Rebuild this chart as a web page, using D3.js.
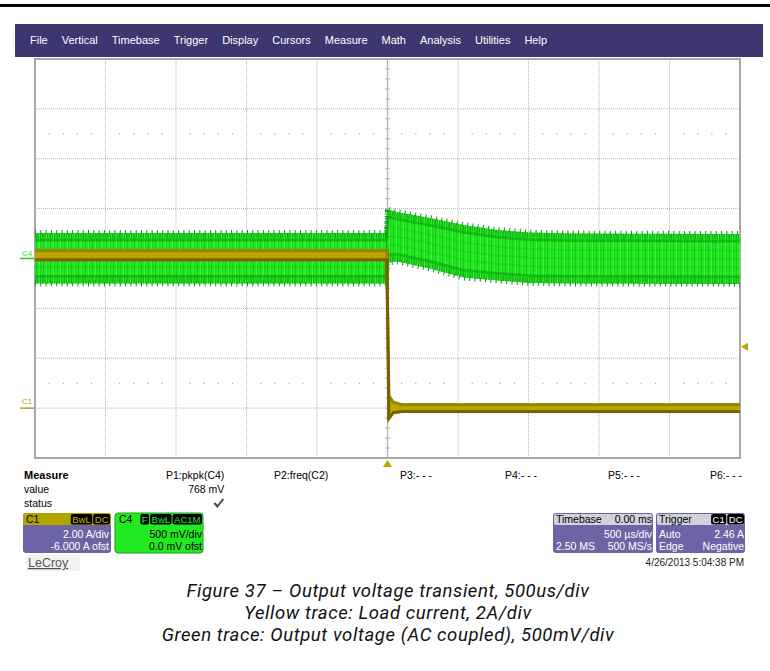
<!DOCTYPE html>
<html>
<head>
<meta charset="utf-8">
<script src="https://cdn.jsdelivr.net/npm/d3@7/dist/d3.min.js"></script>
<style>
  body { margin: 0; background: #fff; }
  svg { display: block; }
  text { font-family: "Liberation Sans", Arial, sans-serif; }
</style>
</head>
<body>
<svg id="scope" width="770" height="671"></svg>
<script>
// values
const menuItems = ["File", "Vertical", "Timebase", "Trigger", "Display", "Cursors", "Measure", "Math", "Analysis", "Utilities", "Help"];

// C4 output voltage (AC coupled) envelope, mV vs ms
const c4Time  = [-2.5, -0.01, 0.0, 0.07, 0.30, 0.54, 0.78, 1.01, 1.30, 2.5];
const c4Upper = [255, 255, 490, 465, 405, 335, 285, 260, 250, 245];
const c4Lower = [-250, -250, -40, -30, -100, -190, -220, -245, -250, -255];

// C1 load current envelope, A vs ms
const c1Time  = [-2.5, -0.005, 0.01, 0.04, 0.10, 2.5];
const c1Upper = [6.37, 6.37, 0.55, 0.30, 0.20, 0.20];
const c1Lower = [5.89, 5.89, -0.48, -0.25, -0.20, -0.20];

const triggerLevel = 2.46;

const measureNames  = ["P1:pkpk(C4)", "P2:freq(C2)", "P3:- - -", "P4:- - -", "P5:- - -", "P6:- - -"];
const measureValues = ["768 mV", "", "", "", "", ""];

const captionLines = [
  "Figure 37 \u2013 Output voltage transient, 500us/div",
  "Yellow trace: Load current, 2A/div",
  "Green trace: Output voltage (AC coupled), 500mV/div"
];

const svg = d3.select("#scope");

// top rule + menu bar
svg.append("rect").attr("x", 0).attr("y", 4).attr("width", 770).attr("height", 3).attr("fill", "#000");
svg.append("rect").attr("x", 15).attr("y", 24).attr("width", 748).attr("height", 33).attr("fill", "#3e3670");

let mx = 30;
menuItems.forEach(m => {
  const t = svg.append("text").attr("x", mx).attr("y", 44)
    .attr("fill", "#fff").style("font-size", "11px").text(m);
  mx += t.node().getComputedTextLength() + 14;
});

// scales
const pLeft = 35, pRight = 740, pTop = 59, pBottom = 458;
const x = d3.scaleLinear().domain([-2.5, 2.5]).range([pLeft, pRight]);
const yV = d3.scaleLinear().domain([-2000, 2000]).range([pBottom, pTop]);   // 500 mV/div
const yA = d3.scaleLinear().domain([-2, 14]).range([pBottom, pTop]);        // 2 A/div, -6 A offset

// grid
const grid = svg.append("g");
d3.range(-2, 2.01, 0.5).filter(d => Math.abs(d) > 1e-6).forEach(t => {
  grid.append("line").attr("x1", x(t)).attr("x2", x(t)).attr("y1", pTop).attr("y2", pBottom)
    .attr("stroke", "#b4b4b4").attr("stroke-dasharray", "1,1");
});
d3.range(-1500, 1501, 500).forEach(v => {
  grid.append("line").attr("x1", pLeft).attr("x2", pRight).attr("y1", yV(v)).attr("y2", yV(v))
    .attr("stroke", "#b4b4b4").attr("stroke-dasharray", "1,1");
});
[-1250, 1250].forEach(v => {
  d3.range(-2.4, 2.5, 0.1).filter(t => Math.abs(t * 2 - Math.round(t * 2)) > 1e-6).forEach(t => {
    grid.append("rect").attr("x", x(t) - 0.5).attr("y", yV(v) - 0.5).attr("width", 1.2).attr("height", 1.2).attr("fill", "#a8a8a8");
  });
});
grid.append("line").attr("x1", x(0)).attr("x2", x(0)).attr("y1", pTop).attr("y2", pBottom)
  .attr("stroke", "#b0b0b0").attr("stroke-width", 1.2);
d3.range(-2000, 2001, 100).forEach(v => {
  grid.append("line").attr("x1", x(0) - 2.5).attr("x2", x(0) + 2.5).attr("y1", yV(v)).attr("y2", yV(v))
    .attr("stroke", "#b0b0b0");
});
svg.append("rect").attr("x", pLeft).attr("y", pTop).attr("width", pRight - pLeft).attr("height", pBottom - pTop)
  .attr("fill", "none").attr("stroke", "#a8a8a8").attr("stroke-width", 2);

// texture for the noisy green band
const defs = svg.append("defs");
const pat = defs.append("pattern").attr("id", "c4tex").attr("patternUnits", "userSpaceOnUse")
  .attr("width", 7).attr("height", 6);
pat.append("rect").attr("width", 7).attr("height", 6).attr("fill", "#22e822");
pat.append("rect").attr("x", 1).attr("width", 1).attr("height", 6).attr("fill", "#18cc18");
pat.append("rect").attr("x", 4).attr("width", 1).attr("height", 6).attr("fill", "#3cf53c");
pat.append("rect").attr("x", 5).attr("width", 1).attr("height", 6).attr("fill", "#1ad21a");

// C4 trace
const c4 = c4Time.map((t, i) => ({ t, hi: c4Upper[i], lo: c4Lower[i] }));
const c4Area = d3.area().x(d => x(d.t)).y0(d => yV(d.lo)).y1(d => yV(d.hi));
svg.append("path").datum(c4).attr("d", c4Area).attr("fill", "url(#c4tex)");
[0.15, 0.33, 0.5, 0.67, 0.85].forEach(f => {
  svg.append("path").datum(c4)
    .attr("d", d3.line().x(d => x(d.t)).y(d => yV(d.lo + (d.hi - d.lo) * f)))
    .attr("fill", "none").attr("stroke", "#10a810").attr("stroke-opacity", 0.22).attr("stroke-width", 2);
});
// serrated band edges
["hi", "lo"].forEach(k => {
  const s = k === "hi" ? 1 : -1;
  svg.append("path").datum(c4)
    .attr("d", d3.line().x(d => x(d.t)).y(d => yV(d[k]) + s * 2.5))
    .attr("fill", "none").attr("stroke", "#1aa81a").attr("stroke-width", 5)
    .attr("stroke-dasharray", "1,1.4");
  svg.append("path").datum(c4)
    .attr("d", d3.line().x(d => x(d.t)).y(d => yV(d[k]) - s * 1))
    .attr("fill", "none").attr("stroke", "#13951a").attr("stroke-width", 4)
    .attr("stroke-dasharray", "1,4.3");
  svg.append("path").datum(c4)
    .attr("d", d3.line().x(d => x(d.t)).y(d => yV(d[k]) + s * 7))
    .attr("fill", "none").attr("stroke", "#0c9a0c").attr("stroke-opacity", 0.5).attr("stroke-width", 3);
});

// C1 trace
const c1 = c1Time.map((t, i) => ({ t, hi: c1Upper[i], lo: c1Lower[i] }));
svg.append("line").attr("x1", x(0) + 0.5).attr("x2", x(0) + 0.5)
  .attr("y1", yA(d3.max(c1Upper))).attr("y2", yA(d3.min(c1Lower)))
  .attr("stroke", "#8a7600").attr("stroke-width", 2);
svg.append("path").datum(c1)
  .attr("d", d3.area().x(d => x(d.t)).y0(d => yA(d.lo)).y1(d => yA(d.hi)))
  .attr("fill", "#b8a800");
svg.append("path").datum(c1)
  .attr("d", d3.line().x(d => x(d.t)).y(d => yA(d.hi) + 1.5))
  .attr("fill", "none").attr("stroke", "#958500").attr("stroke-width", 3);
svg.append("path").datum(c1)
  .attr("d", d3.line().x(d => x(d.t)).y(d => yA(d.lo) - 1.5))
  .attr("fill", "none").attr("stroke", "#7a6100").attr("stroke-width", 3);

// channel markers
svg.append("text").attr("x", 22).attr("y", yV(0) - 3).attr("fill", "#33dd33")
  .style("font-size", "8px").text("C4");
svg.append("line").attr("x1", 20).attr("x2", pLeft - 1).attr("y1", yV(0)).attr("y2", yV(0))
  .attr("stroke", "#22cc22").attr("stroke-width", 1.5);
svg.append("text").attr("x", 22).attr("y", yA(0) - 4).attr("fill", "#b0a400")
  .style("font-size", "8px").text("C1");
svg.append("line").attr("x1", 20).attr("x2", pLeft - 1).attr("y1", yA(0)).attr("y2", yA(0))
  .attr("stroke", "#b0a400").attr("stroke-width", 1.5);

// trigger level & position markers
const ty = yA(triggerLevel);
svg.append("path").attr("d", `M${pRight + 1},${ty} L${pRight + 8},${ty - 4} L${pRight + 8},${ty + 4} Z`).attr("fill", "#b4a800");
svg.append("path").attr("d", `M${x(0)},${pBottom + 2} L${x(0) - 4.5},${pBottom + 9} L${x(0) + 4.5},${pBottom + 9} Z`).attr("fill", "#b4a800");

// measure table
const fs = "10.5px";
svg.append("text").attr("x", 24).attr("y", 479).style("font-size", "11px").style("font-weight", "bold").text("Measure");
svg.append("text").attr("x", 24).attr("y", 493).style("font-size", fs).text("value");
svg.append("text").attr("x", 24).attr("y", 507).style("font-size", fs).text("status");
const colX = [166, 274, 400, 505, 608, 710];
measureNames.forEach((n, i) => {
  const t = svg.append("text").attr("x", colX[i]).attr("y", 479).style("font-size", fs).text(n);
  if (measureValues[i]) {
    const w = t.node().getComputedTextLength();
    svg.append("text").attr("x", colX[i] + w).attr("y", 493).attr("text-anchor", "end")
      .style("font-size", fs).text(measureValues[i]);
    svg.append("path").attr("d", `M${colX[i] + w - 10},${503} L${colX[i] + w - 7},${506.5} L${colX[i] + w - 1},${499}`)
      .attr("fill", "none").attr("stroke", "#444").attr("stroke-width", 2);
  }
});

// small helper for the black tags
function tag(g, x0, y0, label, color) {
  const t = g.append("text").attr("x", x0 + 1.5).attr("y", y0 + 9).attr("fill", color)
    .style("font-size", "9.5px").text(label);
  const w = t.node().getComputedTextLength() + 3;
  g.insert("rect", "text").attr("x", x0).attr("y", y0 + 0.5).attr("width", w).attr("height", 10.5)
    .attr("rx", 2).attr("fill", "#000");
  return w;
}
function tagsRight(g, xr, y0, labels, color) {
  // lay tags right to left
  let xx = xr;
  labels.slice().reverse().forEach(l => {
    const tmp = g.append("text").style("font-size", "9.5px").text(l);
    const w = tmp.node().getComputedTextLength() + 3;
    tmp.remove();
    xx -= w;
    tag(g, xx, y0, l, color);
    xx -= 1;
  });
}

// C1 box
const b1 = svg.append("g");
b1.append("rect").attr("x", 23).attr("y", 513).attr("width", 88).attr("height", 40).attr("rx", 3).attr("fill", "#6d64a6");
b1.append("path").attr("d", "M23,525 L23,516 Q23,513 26,513 L108,513 Q111,513 111,516 L111,525 Z").attr("fill", "#b1a300");
b1.append("text").attr("x", 26).attr("y", 523).style("font-size", "10.5px").text("C1");
tagsRight(b1, 110, 513.5, ["BwL", "DC"], "#c8b800");
b1.append("text").attr("x", 109).attr("y", 538).attr("text-anchor", "end").attr("fill", "#fff").style("font-size", "10.5px").text("2.00 A/div");
b1.append("text").attr("x", 109).attr("y", 550).attr("text-anchor", "end").attr("fill", "#fff").style("font-size", "10.5px").text("-6.000 A ofst");

// C4 box
const b4 = svg.append("g");
b4.append("rect").attr("x", 115).attr("y", 513).attr("width", 88).attr("height", 40).attr("rx", 3).attr("fill", "#22ea22").attr("stroke", "#1aa01a");
b4.append("text").attr("x", 119).attr("y", 523).style("font-size", "10.5px").text("C4");
tagsRight(b4, 202, 513.5, ["F", "BwL", "AC1M"], "#22ea22");
b4.append("text").attr("x", 202).attr("y", 538).attr("text-anchor", "end").style("font-size", "10.5px").text("500 mV/div");
b4.append("text").attr("x", 202).attr("y", 550).attr("text-anchor", "end").style("font-size", "10.5px").text("0.0 mV ofst");

// LeCroy logo
svg.append("rect").attr("x", 26).attr("y", 555).attr("width", 54).attr("height", 16).attr("fill", "#f2f2f2");
svg.append("text").attr("x", 28).attr("y", 567).attr("fill", "#555").style("font-size", "12.5px")
  .style("text-decoration", "underline").text("LeCroy");

// Timebase box
const tb = svg.append("g");
tb.append("rect").attr("x", 553).attr("y", 513).attr("width", 100).attr("height", 40).attr("rx", 3).attr("fill", "#6d64a6");
tb.append("rect").attr("x", 554).attr("y", 514).attr("width", 98).attr("height", 11).attr("rx", 2).attr("fill", "#d2d2dc");
tb.append("text").attr("x", 556).attr("y", 523).style("font-size", "10.5px").text("Timebase");
tb.append("text").attr("x", 652).attr("y", 523).attr("text-anchor", "end").style("font-size", "10.5px").text("0.00 ms");
tb.append("text").attr("x", 652).attr("y", 538).attr("text-anchor", "end").attr("fill", "#fff").style("font-size", "10.5px").text("500 \u00b5s/div");
tb.append("text").attr("x", 556).attr("y", 550).attr("fill", "#fff").style("font-size", "10.5px").text("2.50 MS");
tb.append("text").attr("x", 652).attr("y", 550).attr("text-anchor", "end").attr("fill", "#fff").style("font-size", "10.5px").text("500 MS/s");

// Trigger box
const tr = svg.append("g");
tr.append("rect").attr("x", 656).attr("y", 513).attr("width", 89).attr("height", 40).attr("rx", 3).attr("fill", "#6d64a6");
tr.append("rect").attr("x", 657).attr("y", 514).attr("width", 87).attr("height", 11).attr("rx", 2).attr("fill", "#d2d2dc");
tr.append("text").attr("x", 659).attr("y", 523).style("font-size", "10.5px").text("Trigger");
tagsRight(tr, 744, 513.5, ["C1", "DC"], "#fff");
tr.append("text").attr("x", 659).attr("y", 538).attr("fill", "#fff").style("font-size", "10.5px").text("Auto");
tr.append("text").attr("x", 744).attr("y", 538).attr("text-anchor", "end").attr("fill", "#fff").style("font-size", "10.5px").text(triggerLevel.toFixed(2) + " A");
tr.append("text").attr("x", 659).attr("y", 550).attr("fill", "#fff").style("font-size", "10.5px").text("Edge");
tr.append("text").attr("x", 744).attr("y", 550).attr("text-anchor", "end").attr("fill", "#fff").style("font-size", "10.5px").text("Negative");

svg.append("text").attr("x", 744).attr("y", 566).attr("text-anchor", "end").style("font-size", "10px")
  .attr("fill", "#222").text("4/26/2013 5:04:38 PM");

// caption
captionLines.forEach((c, i) => {
  svg.append("text").attr("x", 388).attr("y", 597 + i * 22).attr("text-anchor", "middle")
    .style("font-family", "Roboto, sans-serif").style("font-style", "italic")
    .style("letter-spacing", "0.6px")
    .style("font-size", "18.5px").attr("fill", "#111").text(c);
});
</script>
</body>
</html>
